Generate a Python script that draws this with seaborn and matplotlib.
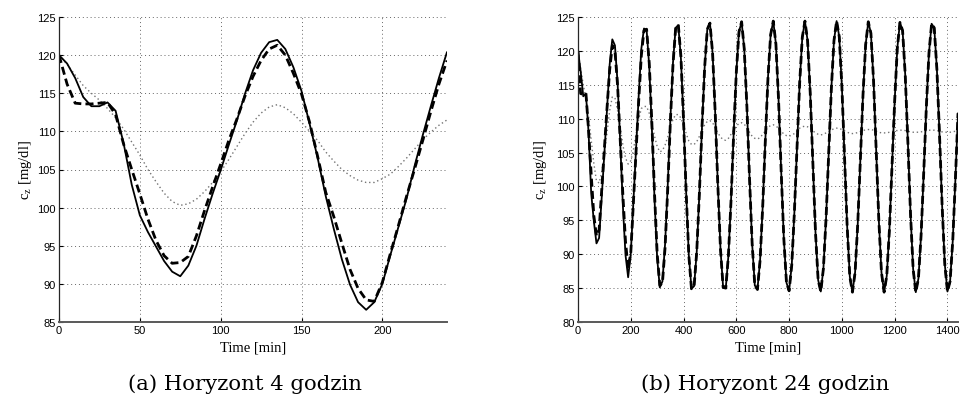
import matplotlib
matplotlib.use("Agg")
import matplotlib.pyplot as plt
import numpy as np
import pandas as pd
import seaborn as sns

# ---------------- data ----------------
# Panel (a): 4-hour horizon, samples every 5 min
time_4h = list(range(0, 241, 5))
solid_4h = [120.0, 118.9, 117.0, 114.5, 113.3, 113.3, 113.8, 112.7, 108.4, 103.0,
            99.0, 96.8, 94.9, 93.0, 91.6, 91.0, 92.4, 95.0, 98.5, 101.8,
            104.9, 108.2, 111.4, 114.9, 118.0, 120.3, 121.7, 122.0, 120.8, 118.4,
            115.3, 111.0, 106.5, 101.5, 97.2, 93.2, 89.9, 87.6, 86.6, 87.6,
            90.0, 93.8, 97.5, 101.2, 105.5, 109.5, 113.3, 117.0, 120.4]
dashed_4h = [120.0, 116.2, 113.7, 113.6, 113.6, 113.7, 113.8, 112.2, 108.3, 105.0,
             101.8, 98.5, 95.7, 93.7, 92.7, 92.8, 93.6, 96.3, 99.6, 102.7,
             105.7, 108.8, 111.6, 114.6, 117.2, 119.3, 120.8, 121.3, 120.0, 117.6,
             114.9, 111.2, 106.7, 102.0, 98.8, 95.3, 91.9, 89.4, 87.9, 87.7,
             90.2, 94.0, 97.7, 101.5, 105.1, 108.8, 112.6, 116.2, 119.3]
dotted_4h = [120.0, 118.8, 117.4, 116.0, 115.0, 114.1, 113.0, 111.8, 110.3, 108.6,
             106.9, 105.0, 103.4, 101.9, 100.8, 100.3, 100.5, 101.1, 102.1, 103.3,
             104.7, 106.3, 108.0, 109.7, 111.2, 112.4, 113.2, 113.5, 113.1, 112.3,
             111.2, 110.0, 108.8, 107.3, 106.1, 105.0, 104.2, 103.6, 103.3, 103.3,
             103.8, 104.4, 105.4, 106.5, 107.7, 108.9, 109.9, 110.8, 111.5]

# Panel (b): 24-hour horizon, samples every 10 min
time_24h = list(range(0, 1441, 10))
solid_24h = [120.0, 117.0, 113.3, 113.7, 108.0, 99.0, 94.9, 91.6, 92.4, 98.5,
             104.9, 111.4, 118.0, 121.7, 120.8, 115.3, 106.5, 97.2, 89.9, 86.6,
             90.1, 97.7, 105.5, 113.4, 120.3, 123.3, 123.1, 117.7, 108.5, 98.1,
             89.4, 85.1, 86.0, 91.5, 100.1, 109.9, 118.3, 123.4, 123.8, 118.9,
             109.7, 99.0, 89.8, 84.9, 85.3, 90.4, 99.0, 108.9, 117.6, 123.2,
             124.1, 119.7, 110.8, 100.1, 90.7, 85.1, 85.0, 89.8, 98.0, 107.9,
             116.9, 122.8, 124.3, 120.3, 111.8, 101.2, 91.5, 85.4, 84.8, 89.1,
             97.1, 106.9, 116.1, 122.4, 124.4, 121.0, 112.8, 102.2, 92.3, 85.8,
             84.6, 88.4, 96.2, 105.9, 115.3, 122.0, 124.4, 121.5, 113.8, 103.3,
             93.2, 86.2, 84.5, 87.9, 95.3, 104.9, 114.4, 121.5, 124.4, 122.1,
             114.7, 104.4, 94.1, 86.7, 84.4, 87.3, 94.4, 103.9, 113.5, 120.9,
             124.3, 122.6, 115.6, 105.5, 95.0, 87.3, 84.4, 86.8, 93.5, 102.9,
             112.6, 120.4, 124.2, 123.0, 116.5, 106.6, 96.0, 87.8, 84.4, 86.4,
             92.7, 101.9, 111.7, 119.7, 124.0, 123.4, 117.3, 107.6, 97.0, 88.5,
             84.5, 86.0, 91.9, 100.9, 110.8]
dashed_24h = [120.0, 113.7, 113.6, 113.8, 108.3, 101.8, 95.7, 92.7, 93.6, 99.6,
              105.7, 111.6, 117.2, 120.8, 120.0, 114.9, 106.7, 98.8, 91.9, 87.9,
              90.2, 97.7, 105.1, 112.6, 119.3, 123.0, 123.2, 118.2, 109.3, 99.0,
              90.1, 85.4, 85.8, 91.0, 99.6, 109.5, 118.0, 123.3, 123.9, 119.2,
              109.7, 99.0, 89.8, 84.9, 85.3, 90.4, 99.0, 108.9, 117.6, 123.2,
              124.1, 119.7, 110.8, 100.1, 90.7, 85.1, 85.0, 89.8, 98.0, 107.9,
              116.9, 122.8, 124.3, 120.3, 111.8, 101.2, 91.5, 85.4, 84.8, 89.1,
              97.1, 106.9, 116.1, 122.4, 124.4, 121.0, 112.8, 102.2, 92.3, 85.8,
              84.6, 88.4, 96.2, 105.9, 115.3, 122.0, 124.4, 121.5, 113.8, 103.3,
              93.2, 86.2, 84.5, 87.9, 95.3, 104.9, 114.4, 121.5, 124.4, 122.1,
              114.7, 104.4, 94.1, 86.7, 84.4, 87.3, 94.4, 103.9, 113.5, 120.9,
              124.3, 122.6, 115.6, 105.5, 95.0, 87.3, 84.4, 86.8, 93.5, 102.9,
              112.6, 120.4, 124.2, 123.0, 116.5, 106.6, 96.0, 87.8, 84.4, 86.4,
              92.7, 101.9, 111.7, 119.7, 124.0, 123.4, 117.3, 107.6, 97.0, 88.5,
              84.5, 86.0, 91.9, 100.9, 110.8]
dotted_24h = [120.0, 117.4, 115.0, 113.0, 110.3, 106.9, 103.4, 100.8, 100.5, 102.1,
              104.7, 108.0, 111.2, 113.2, 113.1, 111.2, 108.8, 106.1, 104.2, 103.3,
              103.8, 105.4, 107.7, 109.9, 111.5, 111.8, 111.8, 110.8, 109.2, 107.4,
              105.9, 105.1, 105.3, 106.1, 107.3, 108.7, 109.9, 110.6, 110.6, 110.1,
              109.0, 107.8, 106.7, 106.2, 106.2, 106.6, 107.4, 108.3, 109.1, 109.6,
              109.7, 109.4, 108.7, 107.9, 107.3, 106.9, 106.8, 107.1, 107.7, 108.3,
              108.9, 109.3, 109.4, 109.2, 108.6, 108.0, 107.4, 107.1, 107.0, 107.2,
              107.7, 108.2, 108.7, 109.0, 109.1, 108.9, 108.6, 108.2, 107.7, 107.5,
              107.4, 107.6, 107.8, 108.2, 108.6, 108.8, 108.9, 108.8, 108.6, 108.2,
              107.9, 107.7, 107.6, 107.7, 107.9, 108.1, 108.35, 108.5, 108.6, 108.55,
              108.4, 108.2, 108.0, 107.85, 107.8, 107.85, 107.95, 108.1, 108.25, 108.35,
              108.4, 108.4, 108.3, 108.15, 108.0, 107.9, 107.9, 107.9, 108.0, 108.1,
              108.2, 108.25, 108.3, 108.3, 108.25, 108.15, 108.05, 108.0, 108.0, 108.0,
              108.05, 108.15, 108.2, 108.3, 108.3, 108.3, 108.25, 108.15, 108.05, 108.0,
              108.0, 108.0, 108.05, 108.15, 108.2]

xticks_4h = [0, 50, 100, 150, 200]
yticks_4h = [85, 90, 95, 100, 105, 110, 115, 120, 125]
xticks_24h = [0, 200, 400, 600, 800, 1000, 1200, 1400]
yticks_24h = [80, 85, 90, 95, 100, 105, 110, 115, 120, 125]

xlabel = "Time [min]"
ylabel = r"c$_z$ [mg/dl]"
caption_a = "(a) Horyzont 4 godzin"
caption_b = "(b) Horyzont 24 godzin"

# ---------------- style ----------------
sns.set_style("white")
plt.rcParams["font.family"] = ["Liberation Sans", "DejaVu Sans"]
plt.rcParams["mathtext.default"] = "regular"
plt.rcParams["text.color"] = "black"
plt.rcParams["axes.labelcolor"] = "black"

fig = plt.figure(figsize=(9.64, 4.06), dpi=100)
ax1 = fig.add_axes([59 / 964, 1 - 323 / 406, 388 / 964, 305 / 406])
ax2 = fig.add_axes([578 / 964, 1 - 323 / 406, 380 / 964, 305 / 406])


def draw(ax, t, solid, dashed, dotted):
    df = pd.DataFrame({"t": t, "solid": solid, "dashed": dashed, "dotted": dotted})
    sns.lineplot(data=df, x="t", y="dotted", ax=ax, color="0.45", lw=1.0,
                 linestyle=(0, (1, 2)))
    sns.lineplot(data=df, x="t", y="solid", ax=ax, color="black", lw=1.3,
                 linestyle="-")
    sns.lineplot(data=df, x="t", y="dashed", ax=ax, color="black", lw=2.0,
                 linestyle=(0, (2.9, 1.5)))


draw(ax1, time_4h, solid_4h, dashed_4h, dotted_4h)
draw(ax2, time_24h, solid_24h, dashed_24h, dotted_24h)

for ax, xt, yt, xlim, ylim, ylx in [
    (ax1, xticks_4h, yticks_4h, (0, 240), (85, 125), -0.064),
    (ax2, xticks_24h, yticks_24h, (0, 1440), (80, 125), -0.076),
]:
    ax.set_xlim(*xlim)
    ax.set_ylim(*ylim)
    ax.set_xticks(xt)
    ax.set_yticks(yt)
    ax.grid(True, linestyle=(0, (1, 3)), color="0.4", lw=0.7)
    ax.set_axisbelow(True)
    for s in ["top", "right"]:
        ax.spines[s].set_visible(False)
    ax.spines["left"].set_color("0.15")
    ax.spines["left"].set_linewidth(0.9)
    ax.spines["bottom"].set_color("0.35")
    ax.spines["bottom"].set_linewidth(1.4)
    ax.tick_params(direction="in", length=3, width=0.8, labelsize=8, pad=2.5,
                   colors="black", left=True, bottom=True)
    ax.set_xlabel(xlabel, family=["Liberation Serif", "DejaVu Serif"], fontsize=10.5)
    ax.set_ylabel(ylabel, family=["Liberation Serif", "DejaVu Serif"], fontsize=10.5)
    ax.xaxis.set_label_coords(0.5, -0.062)
    ax.yaxis.set_label_coords(ylx, 0.5)

fig.text(244.5 / 964, 1 - 384 / 406, caption_a, ha="center", va="center",
         family=["DejaVu Serif"], fontsize=15.3, color="black")
fig.text(765.5 / 964, 1 - 384 / 406, caption_b, ha="center", va="center",
         family=["DejaVu Serif"], fontsize=15.3, color="black")

fig.savefig("out.png", dpi=100)
